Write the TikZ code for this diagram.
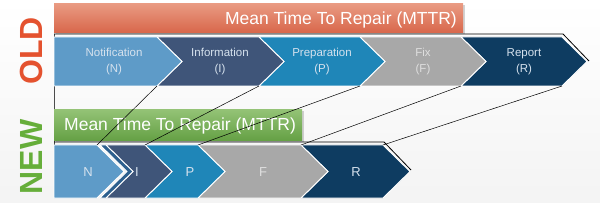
\documentclass[tikz,border=0pt]{standalone}
\usepackage{fontspec}
\setmainfont{Liberation Sans}
\usetikzlibrary{shadows}

\definecolor{notifblue}{HTML}{5E9BC8}
\definecolor{infoblue}{HTML}{3F5579}
\definecolor{prepblue}{HTML}{1F86B8}
\definecolor{fixgray}{HTML}{A8A8A8}
\definecolor{reportblue}{HTML}{0E3C61}
\definecolor{stripeblue}{HTML}{2C5F8E}
\definecolor{oldred}{HTML}{E4522F}
\definecolor{newgreen}{HTML}{66AE3A}
\definecolor{redtop}{HTML}{E99A82}
\definecolor{redbottom}{HTML}{D8664A}
\definecolor{greentop}{HTML}{93C275}
\definecolor{greenbottom}{HTML}{64A044}
\definecolor{steplabel}{HTML}{D6E2EE}

\tikzset{
  chevfill/.style={fill=#1, draw=white, line width=0.9pt, line join=miter},
  steptext/.style={text=#1, font=\fontsize{11.5}{16}\selectfont, align=center, inner sep=0pt},
  letter/.style={text=#1, font=\fontsize{13}{16}\selectfont, inner sep=0pt},
  bartext/.style={text=white, font=\fontsize{17.5}{20}\selectfont, inner sep=0pt},
  sidelabel/.style={text=#1, font=\bfseries\fontsize{32}{32}\selectfont, rotate=90, inner sep=0pt},
  bandline/.style={black, line width=0.8pt},
  link/.style={black, line width=0.5pt}
}

% #1 name, #2 left x, #3 body right x, #4 top y, #5 bottom y, #6 tip depth, #7 back depth, #8 colour
\newcommand{\chevron}[8]{%
  \fill[chevfill=#8] (#2,#4) -- (#3,#4) -- ({#3+#6},{(#4+#5)/2}) -- (#3,#5)
    -- (#2,#5) -- ({#2+#7},{(#4+#5)/2}) -- cycle;
  \coordinate (#1-nw) at (#2,#4);
  \coordinate (#1-ne) at (#3,#4);
  \coordinate (#1-se) at (#3,#5);
}

\begin{document}
\begin{tikzpicture}[x=1pt,y=-1pt]
	\useasboundingbox (0,0) rectangle (600,203);
	\shade[top color=white, bottom color=gray!9] (0,0) rectangle (600,203);

	% side labels
	\node[sidelabel=oldred] (oldlabel) at (31,51) {OLD};
	\node[sidelabel=newgreen] (newlabel) at (31,157) {NEW};

	\draw[black!70, line width=0.6pt] (54,34) -- (54,198);

	% title bars
	\fill[top color=redtop, bottom color=redbottom, drop shadow={opacity=0.35, shadow xshift=1.5pt, shadow yshift=-1pt}] (54,4) rectangle (463,33);
	\node[bartext, anchor=east] (oldbar) at (457,20) {Mean Time To Repair (MTTR)};
	\fill[top color=greentop, bottom color=greenbottom, drop shadow={opacity=0.35, shadow xshift=1.5pt, shadow yshift=-1pt}] (54,110) rectangle (302,141);
	\node[bartext, anchor=west] (newbar) at (64,126) {Mean Time To Repair (MTTR)};

	% old process
	\draw[bandline] (54,34) -- (563,34) -- (589,61);
	\chevron{oldR}{461}{562}{37}{86}{25}{25}{reportblue}
	\chevron{oldF}{360}{461}{37}{86}{25}{25}{fixgray}
	\chevron{oldP}{259}{360}{37}{86}{25}{25}{prepblue}
	\chevron{oldI}{157}{259}{37}{86}{25}{25}{infoblue}
	\chevron{oldN}{54}{157}{37}{86}{25}{0}{notifblue}
	\node[steptext=steplabel] (oldNtext) at (114,61.5) {Notification\\(N)};
	\node[steptext=steplabel] (oldItext) at (220,61.5) {Information\\(I)};
	\node[steptext=steplabel] (oldPtext) at (322,61.5) {Preparation\\(P)};
	\node[steptext=gray!25] (oldFtext) at (423,61.5) {Fix\\(F)};
	\node[steptext=steplabel] (oldRtext) at (524,61.5) {Report\\(R)};

	% new process
	\draw[bandline] (54,142) -- (384,142) -- (411,170);
	\chevron{newR}{301}{383}{145}{198}{27}{27}{reportblue}
	\chevron{newF}{198}{301}{145}{198}{27}{27}{fixgray}
	\chevron{newP}{145}{198}{145}{198}{27}{27}{prepblue}
	\chevron{newI}{106}{145}{145}{198}{27}{27}{infoblue}
	\chevron{newS}{100}{106}{145}{198}{27}{27}{stripeblue}
	\chevron{newN}{54}{97}{145}{198}{27}{0}{notifblue}
	\node[letter=steplabel] (newNtext) at (88,172) {N};
	\node[letter=steplabel] (newItext) at (137,172) {I};
	\node[letter=steplabel] (newPtext) at (190,172) {P};
	\node[letter=gray!25] (newFtext) at (263,172) {F};
	\node[letter=steplabel] (newRtext) at (356,172) {R};

	% old steps shrink to new steps
	\draw[link] (oldN-se) -- (newN-ne);
	\draw[link] (oldI-se) -- (newI-ne);
	\draw[link] (oldP-se) -- (newP-ne);
	\draw[link] (oldF-se) -- (newF-ne);
	\draw[link] (oldR-se) -- (newR-ne);
\end{tikzpicture}
\end{document}
